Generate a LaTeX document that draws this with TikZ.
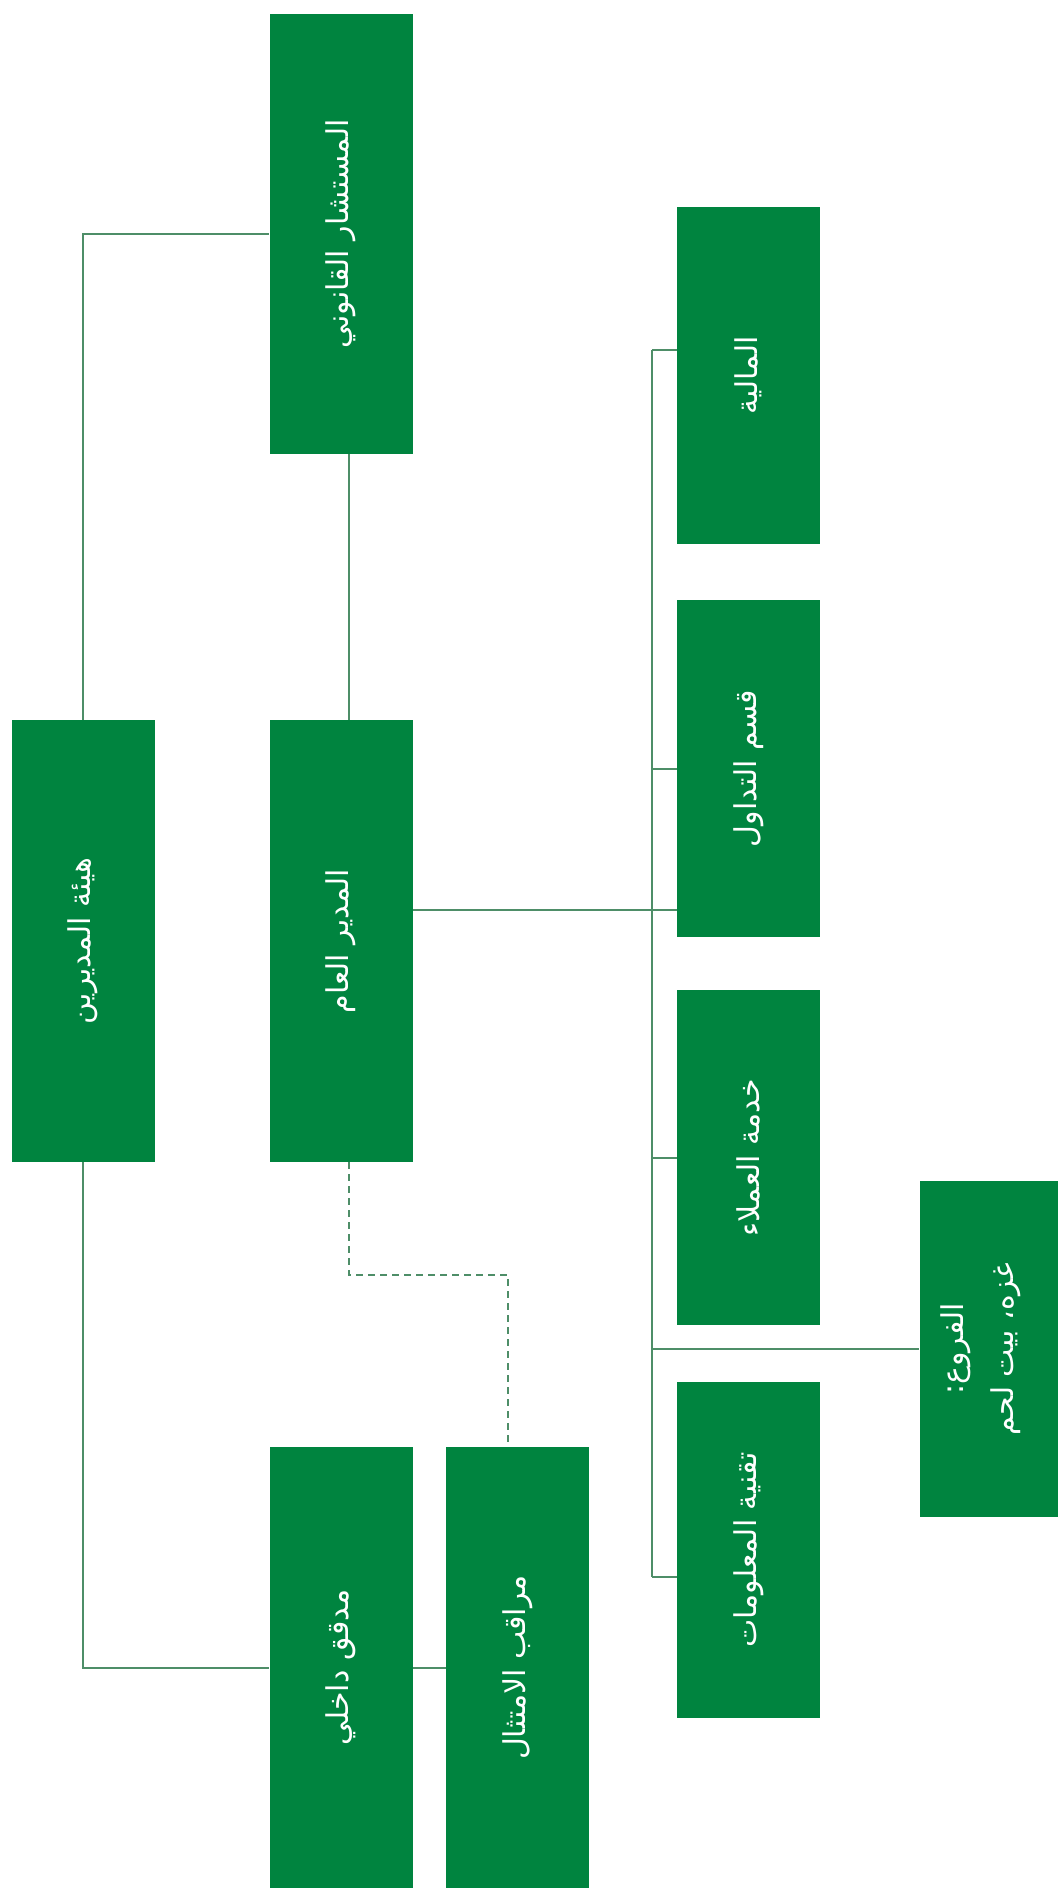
\documentclass[tikz,border=0pt]{standalone}
\usepackage{fontspec}
\TeXXeTstate=1
\newfontfamily\arabicfont[Script=Arabic]{DejaVu Sans}
\definecolor{boxgreen}{HTML}{00843F}
\definecolor{linegreen}{HTML}{4E8E68}
\newcommand{\vtext}[1]{\rotatebox{90}{\arabicfont\fontsize{15}{18}\selectfont\beginR #1\endR}}
\begin{document}
\begin{tikzpicture}[x=0.5pt,y=-0.5pt,
  orgbox/.style={fill=boxgreen, draw=none, inner sep=0pt, text=white, minimum width=71.5pt},
  link/.style={draw=linegreen, line width=1pt},
  dashlink/.style={draw=linegreen, line width=1pt, dash pattern=on 3.5pt off 2.5pt}]
\useasboundingbox (0,0) rectangle (1057,1888);

% left/centre column
\node[orgbox, minimum height=220pt] (legal) at (341,234) {\vtext{المستشار القانوني}};
\node[orgbox, minimum height=221pt] (board) at (83,941) {\vtext{هيئة المديرين}};
\node[orgbox, minimum height=221pt] (gm) at (341,941) {\vtext{المدير العام}};
\node[orgbox, minimum height=220.5pt] (aud) at (341,1667.5) {\vtext{مدقق داخلي}};
\node[orgbox, minimum height=220.5pt] (comp) at (517.5,1667.5) {\vtext{مراقب الامتثال}};

% departments
\node[orgbox, minimum height=168.5pt] (fin) at (748.5,375.5) {\vtext{المالية}};
\node[orgbox, minimum height=168.5pt] (trade) at (748.5,768.5) {\vtext{قسم التداول}};
\node[orgbox, minimum height=167.5pt] (cust) at (748.5,1157.5) {\vtext{خدمة العملاء}};
\node[orgbox, minimum height=168pt] (it) at (748.5,1550) {\vtext{تقنية المعلومات}};
\node[orgbox, minimum height=168pt] (branch) at (991,1349) {\rotatebox{90}{\arabicfont\fontsize{15}{18}\selectfont
  \raisebox{5pt}[\height][\depth]{\begin{tabular}{@{}c@{}}\beginR الفروع:\endR\\[7pt] \beginR غزه، بيت لحم\endR\end{tabular}}}};

\coordinate (bus) at (652,0);

% connectors
\draw[link] (board.north) |- (legal.west);
\draw[link] (board.south) |- (aud.west);
\draw[link] ([xshift=4pt]legal.south) -- ([xshift=4pt]gm.north);
\draw[link] (aud.east) -- (comp.west);
\draw[dashlink] ([xshift=4pt]gm.south) -- ++(0,113) -| ([xshift=-4.75pt]comp.north);

\draw[link] ([yshift=15.5pt]gm.east) -- ([yshift=15.5pt]gm.east -| trade.west);
\draw[link] ([yshift=12.75pt]fin.west -| bus) -- ([yshift=-13.5pt]it.west -| bus);
\draw[link] ([yshift=12.75pt]fin.west -| bus) -- ([yshift=12.75pt]fin.west);
\draw[link] (trade.west -| bus) -- (trade.west);
\draw[link] (cust.west -| bus) -- (cust.west);
\draw[link] ([yshift=-13.5pt]it.west -| bus) -- ([yshift=-13.5pt]it.west);
\draw[link] (branch.west -| bus) -- (branch.west);
\end{tikzpicture}
\end{document}
